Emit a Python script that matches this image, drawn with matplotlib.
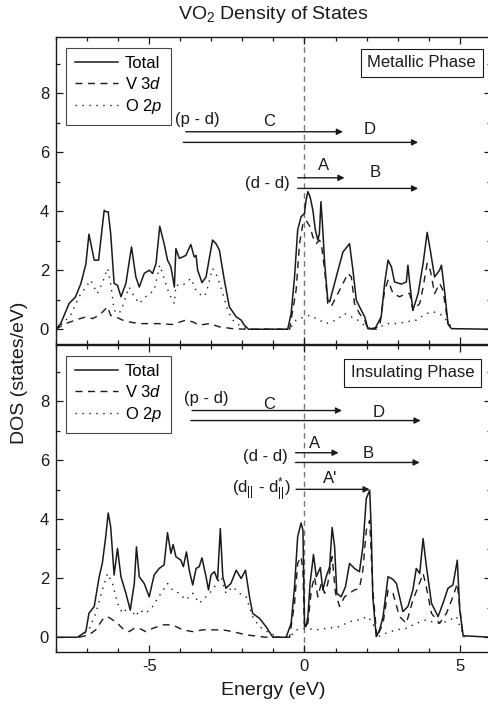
import matplotlib
matplotlib.use("Agg")
import matplotlib.pyplot as plt
from matplotlib.ticker import MultipleLocator

plt.rcParams['font.family'] = ['Liberation Sans', 'DejaVu Sans']
plt.rcParams['mathtext.fontset'] = 'custom'
plt.rcParams['mathtext.rm'] = 'Liberation Sans'
plt.rcParams['mathtext.it'] = 'Liberation Sans:italic'
plt.rcParams['axes.unicode_minus'] = False

# ---- metallic phase (top) ----
met_e_tot = [-8.01, -7.85, -7.58, -7.37, -7.2, -7.04, -6.94, -6.77, -6.63, -6.45, -6.4, -6.32, -6.24, -6.13,
             -6.02, -5.91, -5.75, -5.57, -5.43, -5.32, -5.16, -5.0, -4.89, -4.78, -4.66, -4.52, -4.41, -4.3,
             -4.19, -4.14, -4.03, -3.92, -3.82, -3.66, -3.55, -3.49, -3.44, -3.3, -3.17, -2.96, -2.85, -2.74,
             -2.58, -2.42, -2.2, -2.04, -1.94, -1.8, -0.54, -0.43, -0.32, -0.22, -0.11, 0.0, 0.05, 0.11, 0.18,
             0.27, 0.35, 0.43, 0.48, 0.53, 0.59, 0.65, 0.75, 0.81, 0.91, 1.08, 1.24, 1.37, 1.45, 1.56, 1.67,
             1.83, 1.94, 2.04, 2.26, 2.47, 2.58, 2.69, 2.8, 2.9, 3.12, 3.28, 3.33, 3.39, 3.49, 3.66, 3.82, 3.95,
             4.05, 4.19, 4.35, 4.41, 4.52, 4.62, 4.73, 6.0]
met_tot = [0, 0.19, 0.87, 1.1, 1.55, 2.2, 3.22, 2.34, 2.34, 4.03, 3.98, 3.98, 3.24, 1.55,
           1.49, 1.1, 1.55, 2.79, 1.77, 1.43, 1.89, 2.0, 1.89, 2.23, 3.49, 2.9, 2.34, 2.11,
           1.43, 2.73, 2.4, 2.45, 2.5, 2.87, 2.45, 2.5, 2.0, 1.58, 1.77, 3.02, 2.9, 2.68,
           1.66, 0.76, 0.42, 0.31, 0.14, 0, 0, 0.53, 1.77, 3.36, 3.81, 3.92, 4.37, 4.66, 4.49,
           4.03, 3.36, 3.02, 3.24, 4.32, 3.36, 2.23, 0.98, 0.93, 1.32, 2.0, 2.62, 2.79, 2.9, 2.0, 0.98,
           0.64, 0.42, 0.02, 0, 0.42, 1.55, 2.34, 2.11, 1.6, 1.53, 1.6, 2.17, 1.55, 0.64, 1.21, 2.23, 3.28,
           2.68, 1.77, 2.0, 2.17, 1.21, 0.19, 0.02, 0]

met_e_v = [-8.01, -7.69, -7.37, -7.04, -6.83, -6.61, -6.45, -6.34, -6.24, -6.08, -5.86, -5.65, -5.32, -5.0,
           -4.68, -4.25, -3.82, -3.6, -3.39, -3.06, -2.74, -2.31, -1.88, -0.48, -0.27, -0.16, -0.05, 0.05,
           0.18, 0.27, 0.38, 0.48, 0.54, 0.65, 0.75, 0.86, 1.02, 1.24, 1.4, 1.51, 1.61, 1.77, 1.94, 2.04,
           2.42, 2.58, 2.69, 2.85, 3.06, 3.28, 3.39, 3.49, 3.71, 3.82, 3.95, 4.05, 4.19, 4.35, 4.46, 4.62, 4.73]
met_v = [0, 0.19, 0.31, 0.42, 0.36, 0.47, 0.64, 0.76, 0.47, 0.42, 0.31, 0.25, 0.19, 0.19,
         0.19, 0.16, 0.31, 0.25, 0.14, 0.19, 0.08, 0.02, 0, 0, 1.32, 2.9, 3.58, 3.69,
         3.47, 3.13, 2.9, 3.02, 2.9, 2.0, 0.87, 0.76, 1.1, 1.55, 1.89, 1.77, 0.87, 0.53, 0.31, 0,
         0.08, 1.32, 1.66, 1.21, 1.1, 1.21, 1.21, 0.64, 0.87, 1.43, 2.23, 2.0, 1.21, 1.55, 1.32, 0.19, 0]

met_e_o = [-8.01, -7.8, -7.53, -7.26, -7.04, -6.88, -6.67, -6.51, -6.34, -6.24, -6.13, -5.97, -5.86, -5.65,
           -5.48, -5.32, -5.11, -4.84, -4.66, -4.52, -4.36, -4.19, -4.14, -3.92, -3.66, -3.49, -3.28, -3.17,
           -2.96, -2.8, -2.63, -2.47, -2.31, -2.1, -1.83, -0.48, -0.27, 0.0, 0.16, 0.38, 0.7, 1.02, 1.29,
           1.51, 1.72, 1.99, 2.31, 2.63, 2.96, 3.28, 3.6, 3.92, 4.14, 4.35, 4.57, 4.78]
met_o = [0, 0.19, 0.47, 1.1, 1.43, 1.66, 1.21, 1.55, 2.06, 1.55, 0.64, 0.53, 0.76, 1.43,
         1.1, 0.87, 1.1, 1.32, 2.17, 1.72, 1.21, 0.87, 1.49, 1.49, 1.72, 1.32, 1.1, 1.21,
         2.06, 1.77, 1.21, 0.64, 0.31, 0.14, 0, 0, 0.31, 0.42, 0.47, 0.36, 0.19, 0.31, 0.53,
         0.42, 0.31, 0.08, 0, 0.19, 0.19, 0.25, 0.31, 0.53, 0.59, 0.53, 0.31, 0]

# ---- insulating phase (bottom) ----
ins_e_tot = [-8.01, -7.31, -7.04, -6.94, -6.77, -6.61, -6.51, -6.4, -6.32, -6.24, -6.13, -6.02, -5.91, -5.75,
             -5.61, -5.48, -5.41, -5.32, -5.16, -5.0, -4.84, -4.68, -4.52, -4.41, -4.3, -4.23, -4.14, -3.98,
             -3.9, -3.8, -3.71, -3.6, -3.49, -3.39, -3.3, -3.17, -3.09, -3.01, -2.9, -2.8, -2.71, -2.63, -2.53,
             -2.37, -2.2, -2.04, -1.9, -1.77, -1.67, -1.45, -1.24, -1.02, -0.59, -0.43, -0.32, -0.22, -0.11,
             -0.05, 0.0, 0.05, 0.11, 0.18, 0.29, 0.38, 0.51, 0.59, 0.7, 0.81, 0.89, 0.97, 1.04, 1.18, 1.32,
             1.45, 1.61, 1.77, 1.88, 1.99, 2.1, 2.15, 2.2, 2.31, 2.42, 2.53, 2.69, 2.85, 2.96, 3.17, 3.33,
             3.49, 3.6, 3.71, 3.82, 3.92, 4.09, 4.3, 4.46, 4.62, 4.78, 4.92, 5.0, 5.11, 6.0]
ins_tot = [0, 0, 0.19, 0.81, 1.04, 2.05, 2.5, 3.4, 4.21, 3.74, 2.11, 3.01, 2.05, 1.49,
           0.92, 1.82, 3.06, 2.05, 1.82, 1.37, 2.11, 2.33, 2.45, 3.54, 2.84, 3.14, 2.73, 2.61,
           2.39, 2.89, 2.27, 1.77, 2.33, 2.39, 2.69, 2.05, 1.6, 2.11, 2.22, 1.94, 3.68, 2.05, 1.66,
           1.82, 2.27, 1.99, 2.27, 1.37, 0.81, 0.64, 0.36, 0, 0, 0.47, 1.71, 3.4, 3.87,
           3.63, 0.47, 0.36, 0.7, 1.82, 2.8, 2.05, 2.36, 1.6, 2.05, 2.39, 3.72, 3.06, 1.49, 1.37, 1.71,
           2.5, 2.33, 2.22, 3.06, 4.7, 4.98, 3.63, 1.37, 0.02, 0.25, 0.7, 2.05, 1.96, 1.82, 0.87, 1.04,
           1.6, 2.33, 2.16, 3.34, 2.44, 1.15, 0.7, 1.15, 1.66, 1.77, 2.61, 0.92, 0.05, 0]

ins_e_v = [-7.26, -6.94, -6.72, -6.51, -6.34, -6.18, -6.02, -5.86, -5.65, -5.48, -5.32, -5.11, -4.89, -4.57,
           -4.25, -3.92, -3.6, -3.28, -2.96, -2.63, -2.31, -1.88, -1.24, -0.48, -0.32, -0.22, -0.11, -0.05,
           0.0, 0.11, 0.22, 0.32, 0.43, 0.54, 0.65, 0.75, 0.89, 1.0, 1.13, 1.29, 1.45, 1.61, 1.77, 1.88,
           1.99, 2.1, 2.2, 2.33, 2.53, 2.69, 2.85, 3.06, 3.28, 3.49, 3.66, 3.82, 3.92, 4.09, 4.35, 4.57,
           4.78, 4.92, 5.02, 5.11]
ins_v = [0, 0.08, 0.25, 0.59, 0.7, 0.59, 0.47, 0.3, 0.19, 0.3, 0.3, 0.19, 0.3, 0.42,
         0.42, 0.25, 0.19, 0.25, 0.25, 0.25, 0.19, 0.08, 0, 0, 1.15, 2.5, 2.73, 2.27,
         0.3, 0.47, 1.6, 2.05, 1.37, 1.82, 1.49, 1.82, 2.73, 1.49, 1.04, 1.37, 1.49, 1.6, 1.66, 2.27,
         3.63, 3.96, 1.6, 0, 0.47, 1.6, 1.49, 0.7, 0.47, 1.26, 1.71, 2.16, 1.71, 0.81, 0.47, 0.81,
         1.37, 1.82, 0.81, 0]

ins_e_o = [-7.26, -6.94, -6.72, -6.51, -6.34, -6.18, -6.02, -5.86, -5.65, -5.43, -5.32, -5.11, -4.89, -4.62,
           -4.41, -4.25, -4.03, -3.82, -3.6, -3.39, -3.17, -2.96, -2.69, -2.53, -2.31, -2.1, -1.88, -1.67,
           -1.45, -1.13, -0.81, -0.48, -0.27, 0.05, 0.38, 0.7, 1.13, 1.45, 1.77, 2.04, 2.2, 2.37, 2.63,
           2.96, 3.28, 3.6, 3.92, 4.25, 4.57, 4.89, 5.05, 5.16]
ins_o = [0, 0.25, 0.81, 1.6, 2.16, 1.82, 1.15, 0.81, 1.04, 0.7, 0.92, 0.81, 1.04, 1.49,
         1.82, 1.6, 1.49, 1.26, 1.49, 1.15, 1.37, 1.6, 2.05, 1.49, 1.71, 1.49, 1.37, 0.7,
         0.36, 0.14, 0, 0, 0.25, 0.3, 0.25, 0.3, 0.36, 0.53, 0.59, 0.7, 0.47, 0.02, 0.14,
         0.25, 0.3, 0.47, 0.59, 0.47, 0.53, 0.7, 0.25, 0]

# transitions: (start, end, height)
met_arrows = [(-3.82, 1.24, 6.69), (-3.9, 3.66, 6.33), (-0.22, 1.29, 5.13), (-0.22, 3.66, 4.77)]
ins_arrows = [(-3.62, 1.21, 7.68), (-3.66, 3.74, 7.34), (-0.29, 1.1, 6.25), (-0.29, 3.71, 5.92),
              (-0.27, 2.1, 5.01)]
# labels: (text, x, y, ha)
met_labels = [('(p - d)', -3.44, 7.1, 'center'), ('C', -1.13, 7.03, 'center'), ('D', 2.1, 6.77, 'center'),
              ('(d - d)', -0.48, 4.94, 'right'), ('A', 0.61, 5.53, 'center'), ('B', 2.29, 5.3, 'center')]
ins_labels = [('(p - d)', -3.17, 8.09, 'center'), ('C', -1.13, 7.9, 'center'), ('D', 2.4, 7.62, 'center'),
              ('(d - d)', -0.54, 6.13, 'right'), ('A', 0.32, 6.57, 'center'), ('B', 2.04, 6.24, 'center'),
              ('(d$_{||}$ - d$_{||}^{*}$)', -0.43, 5.0, 'right'), ("A'", 0.81, 5.38, 'center')]

ink = '#1a1a1a'
fig = plt.figure(figsize=(4.88, 7.10), dpi=100)
ax_top = fig.add_axes([0.1148, 0.5155, 0.891, 0.4324])
ax_bot = fig.add_axes([0.1148, 0.0817, 0.891, 0.4324])

panels = [
    (ax_top, met_e_tot, met_tot, met_e_v, met_v, met_e_o, met_o, met_arrows, met_labels, 'Metallic Phase', (3.77, 9.02)),
    (ax_bot, ins_e_tot, ins_tot, ins_e_v, ins_v, ins_e_o, ins_o, ins_arrows, ins_labels, 'Insulating Phase', (3.47, 8.96)),
]

for ax, et, t, ev, v, eo, o, arrows, labels, phase, ppos in panels:
    ax.plot(et, t, color=ink, lw=1.1, label='Total')
    ax.plot(ev, v, color=ink, lw=1.0, dashes=(5, 4), label='V 3$d$')
    ax.plot(eo, o, color=ink, lw=1.0, dashes=(1, 4), label='O 2$p$')
    ax.axvline(0, color='#777777', lw=1.0, dashes=(4, 3), zorder=0)
    for x0, x1, y in arrows:
        ax.annotate('', xy=(x1, y), xytext=(x0, y),
                    arrowprops=dict(arrowstyle='-|>', color=ink, lw=1.0, shrinkA=0, shrinkB=0,
                                    mutation_scale=9))
    for txt, x, y, ha in labels:
        ax.text(x, y, txt, ha=ha, va='center', fontsize=12, color=ink)
    ax.text(ppos[0], ppos[1], phase, ha='center', va='center', fontsize=12, color=ink,
            bbox=dict(boxstyle='square,pad=0.4', fc='white', ec=ink, lw=0.8))
    leg = ax.legend(loc='upper left', bbox_to_anchor=(0.02, 0.97), fontsize=12, frameon=True,
                    fancybox=False, edgecolor=ink, handlelength=2.6, borderpad=0.5, labelspacing=0.3,
                    handletextpad=0.4, borderaxespad=0.1)
    leg.get_frame().set_linewidth(0.8)
    ax.set_xlim(-8, 6)
    ax.set_ylim(-0.5, 9.9)
    ax.xaxis.set_major_locator(MultipleLocator(5))
    ax.xaxis.set_minor_locator(MultipleLocator(1))
    ax.yaxis.set_major_locator(MultipleLocator(2))
    ax.yaxis.set_minor_locator(MultipleLocator(1))
    ax.tick_params(which='both', direction='in', top=True, right=True, colors=ink, labelsize=12, pad=5)
    ax.tick_params(which='major', length=5, width=0.9)
    ax.tick_params(which='minor', length=3, width=0.9)
    for s in ax.spines.values():
        s.set_color(ink)
        s.set_linewidth(1.0)

ax_top.tick_params(labelbottom=False)
ax_top.set_title('VO$_2$ Density of States', fontsize=14, color=ink, pad=13)
ax_bot.set_xlabel('Energy (eV)', fontsize=14, color=ink, labelpad=6)
fig.text(0.04, 0.475, 'DOS (states/eV)', rotation=90, ha='center', va='center', fontsize=14, color=ink)

fig.savefig('out.png', dpi=100)
